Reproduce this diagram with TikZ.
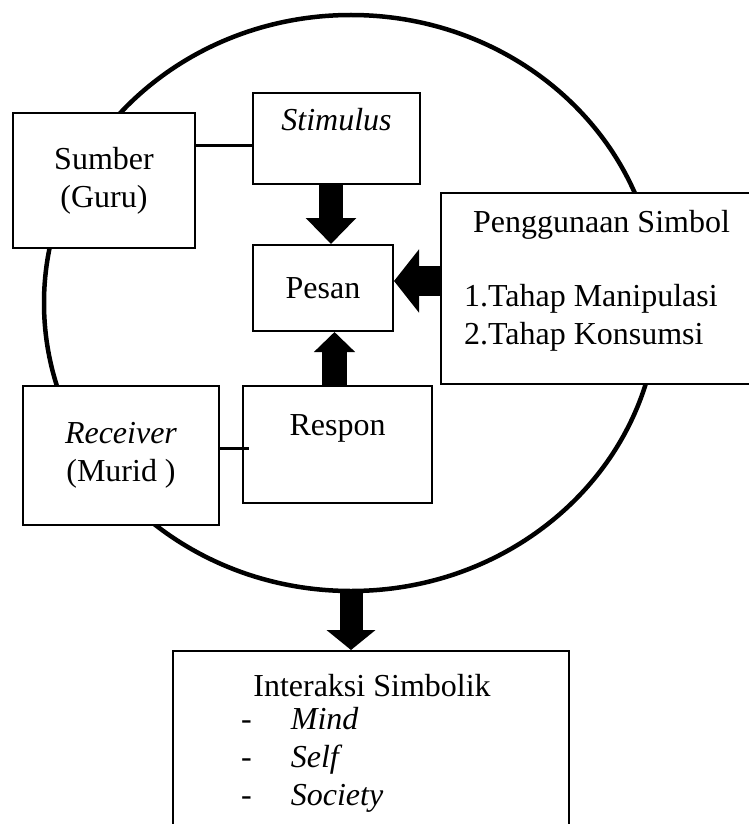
\documentclass[tikz,border=0pt]{standalone}
\usepackage{fontspec}
\setmainfont{Liberation Serif}
\usepackage{tikz}
\usetikzlibrary{arrows.meta,shapes.geometric,positioning}

\begin{document}
\begin{tikzpicture}[x=1pt,y=1pt,
                          box/.style={draw, line width=2pt, fill=white, inner sep=0pt, align=center, font=\fontsize{32}{38}\selectfont},
                          txt/.style={inner sep=0pt, font=\fontsize{32}{38}\selectfont},
                          link/.style={line width=3pt, black},
                          blk/.style={line width=#1, black},
                         ]

\useasboundingbox (0,0) rectangle (748,-824);

\node[draw, ellipse, line width=4.5pt, inner sep=0pt, minimum width=614, minimum height=576] (circ) at (351,-303) {};

\node[box, minimum width=182, minimum height=135] (sumber) at (104,-180.5) {Sumber\\(Guru)};
\node[box, minimum width=167, minimum height=91] (stim) at (336.5,-138.5) {\textit{Stimulus}\\ \mbox{}};
\node[box, minimum width=140, minimum height=86] (pesan) at (323,-288) {Pesan};
\node[box, minimum width=314, minimum height=191] (peng) at (598,-288.5) {};
\node[box, minimum width=196, minimum height=139] (recv) at (121,-455.5) {\textit{Receiver}\\(Murid )};
\node[box, minimum width=189, minimum height=117] (respon) at (337.5,-444.5) {Respon\\ \mbox{}};
\node[box, minimum width=396, minimum height=200] (inter) at (371,-751) {};

\node[txt, align=left] (pengtxt) at (597,-281) {\hspace*{9pt}Penggunaan Simbol\\[36pt]1.Tahap Manipulasi\\2.Tahap Konsumsi};
\node[txt] (intertitle) at (372,-686) {Interaksi Simbolik};
\node[txt, align=left, anchor=west] (interlist) at (241,-760) {-\hspace{39pt}\textit{Mind}\\-\hspace{39pt}\textit{Self}\\-\hspace{39pt}\textit{Society}};

% arrows
\draw[blk=24pt, -{Triangle[width=49pt,length=26pt]}] ([xshift=-5.5pt]stim.south) -- ([xshift=-5.5pt]stim.south |- pesan.north);
\draw[blk=30pt, -{Triangle[width=62pt,length=25pt]}] (peng.west |- pengtxt.center) -- (pesan.east |- pengtxt.center);
\draw[blk=25pt, -{Triangle[width=40pt,length=20pt]}] ([xshift=-3pt]respon.north) -- ([xshift=-3pt]respon.north |- pesan.south);
\draw[blk=23pt, -{Triangle[width=48pt,length=20pt]}] (circ.south) -- (circ.south |- inter.north);

\coordinate (l1) at (0,-145);
\coordinate (l2) at (0,-448);
\draw[link] (sumber.east |- l1) -- (stim.west |- l1);
\draw[link] (recv.east |- l2) -- ([xshift=7pt]respon.west |- l2);

\end{tikzpicture}
\end{document}
